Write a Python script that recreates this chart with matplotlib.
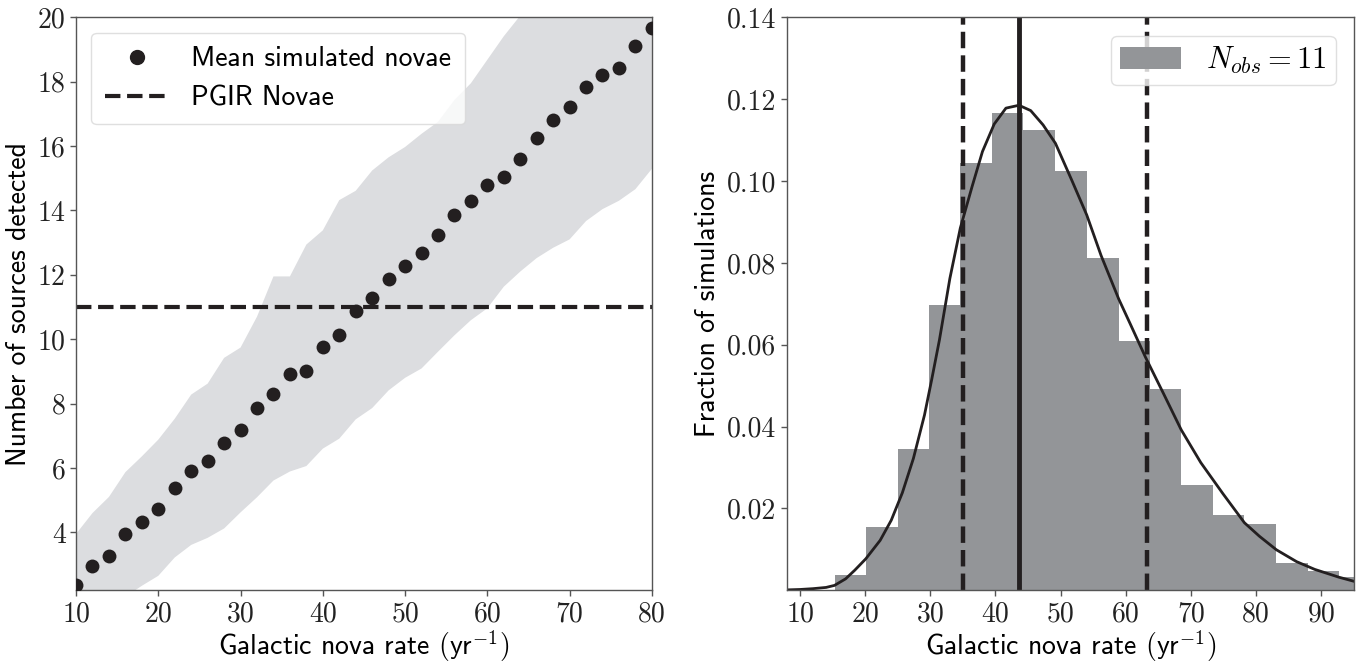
import matplotlib
matplotlib.use("Agg")
from matplotlib import pyplot as plt
from matplotlib.lines import Line2D

# left panel: mean detections vs galactic nova rate
rates = [10, 12, 14, 16, 18, 20, 22, 24, 26, 28, 30, 32, 34, 36, 38, 40, 42, 44,
         46, 48, 50, 52, 54, 56, 58, 60, 62, 64, 66, 68, 70, 72, 74, 76, 78, 80]
mean_detected = [2.38, 2.95, 3.28, 3.96, 4.32, 4.73, 5.38, 5.92, 6.22, 6.78, 7.17, 7.87,
                 8.31, 8.93, 9.01, 9.77, 10.14, 10.89, 11.29, 11.86, 12.26, 12.69, 13.23, 13.85,
                 14.30, 14.79, 15.05, 15.59, 16.26, 16.80, 17.21, 17.84, 18.21, 18.43, 19.10, 19.67]
band_upper = [3.95, 4.6, 5.1, 5.87, 6.36, 6.88, 7.53, 8.28, 8.62, 9.42, 9.74, 10.7,
              11.95, 11.95, 12.94, 13.38, 14.32, 14.61, 15.24, 15.65, 15.97, 16.38, 16.75, 17.43,
              17.95, 18.68, 19.41, 20.05, 20.6, 21.2, 21.7, 22.3, 22.8, 23.3, 23.8, 24.3]
band_lower = [0.9, 1.3, 1.6, 2.0, 2.34, 2.65, 3.22, 3.61, 3.83, 4.12, 4.62, 5.09,
              5.61, 5.89, 6.06, 6.6, 6.91, 7.51, 7.86, 8.41, 8.80, 9.09, 9.61, 10.12,
              10.59, 10.96, 11.63, 12.1, 12.52, 12.84, 13.1, 13.67, 14.04, 14.3, 14.66, 15.29]
n_observed = 11

# right panel: histogram of inferred rates
bin_edges = [15.3, 20.1, 25.0, 29.8, 34.6, 39.4, 44.2, 49.2, 54.0, 58.9,
             63.7, 68.5, 73.4, 78.2, 83.1, 87.9, 92.7, 97.6]
bin_fraction = [0.0038, 0.0154, 0.0345, 0.0697, 0.1044, 0.1165, 0.1125, 0.1024, 0.0812,
                0.0609, 0.0491, 0.0257, 0.0183, 0.0161, 0.0066, 0.0046, 0.0033]
fit_x = [8, 10, 12, 14, 15.3, 17, 18.4, 20.1, 22.3, 24.0, 25.7, 27.4, 29.1, 30.2, 31.4,
         33.0, 34.6, 36.4, 38.0, 39.8, 41.6, 43.6, 45.4, 47.3, 49.2, 51.7, 54.0, 56.2,
         58.9, 60.7, 63.0, 65.8, 68.5, 71.5, 74.9, 78.2, 80.5, 83.1, 86.2, 89.0, 92.7, 95]
fit_y = [0.0001, 0.0002, 0.0004, 0.0007, 0.0012, 0.0028, 0.0049, 0.0077, 0.0122, 0.0171,
         0.0238, 0.0322, 0.0428, 0.0514, 0.0612, 0.0762, 0.0885, 0.0986, 0.1072, 0.1139,
         0.1178, 0.1185, 0.1172, 0.1137, 0.1092, 0.1002, 0.0917, 0.0818, 0.0712, 0.0650,
         0.0570, 0.0480, 0.0392, 0.0312, 0.0236, 0.0165, 0.0132, 0.0099, 0.0070, 0.0051,
         0.0032, 0.0022]
rate_median = 43.6
rate_low = 35.0
rate_high = 63.2

rate_ticks_left = [10, 20, 30, 40, 50, 60, 70, 80]
count_ticks = [4, 6, 8, 10, 12, 14, 16, 18, 20]
rate_ticks_right = [10, 20, 30, 40, 50, 60, 70, 80, 90]
fraction_ticks = [0.02, 0.04, 0.06, 0.08, 0.10, 0.12, 0.14]

INK = "#231f20"
SANS = "cmss10"
SERIF = "cmr10"

plt.rcParams["mathtext.fontset"] = "cm"
plt.rcParams["axes.unicode_minus"] = False

fig = plt.figure(figsize=(13.58, 6.64), dpi=100)
ax_left = fig.add_axes([0.056, 0.111, 0.424, 0.863])
ax_right = fig.add_axes([0.5795, 0.111, 0.4175, 0.863])

ax_left.fill_between(rates, band_lower, band_upper, color="#dcdde0", linewidth=0)
ax_left.scatter(rates, mean_detected, s=100, color=INK, zorder=3, linewidths=0)
ax_left.axhline(n_observed, color=INK, linestyle="--", linewidth=3.0, zorder=2)
ax_left.set_xlim(10, 80)
ax_left.set_ylim(2.2, 20)
ax_left.set_xticks(rate_ticks_left)
ax_left.set_yticks(count_ticks)
ax_left.set_xlabel(r"Galactic nova rate $(\mathsf{yr}^{-1})$", fontsize=20, family=SANS, labelpad=1)
ax_left.set_ylabel("Number of sources detected", fontsize=20, family=SANS, labelpad=5)
handles = [
    Line2D([], [], linestyle="none", marker="o", markersize=10, color=INK),
    Line2D([], [], linestyle="--", linewidth=3.0, color=INK),
]
ax_left.legend(handles, ["Mean simulated novae", "PGIR Novae"], loc="upper left",
               prop={"family": SANS, "size": 20}, fancybox=True, framealpha=0.8,
               edgecolor="#d8d8d8", borderpad=0.5, handlelength=2.3, borderaxespad=0.55)

ax_right.bar(bin_edges[:-1], bin_fraction, width=[b - a for a, b in zip(bin_edges[:-1], bin_edges[1:])],
             align="edge", color="#939598", linewidth=0, label=r"$N_{obs} = 11$")
ax_right.plot(fit_x, fit_y, color=INK, linewidth=2.0)
ax_right.axvline(rate_median, color=INK, linewidth=3.5)
ax_right.axvline(rate_low, color=INK, linewidth=3.2, linestyle="--")
ax_right.axvline(rate_high, color=INK, linewidth=3.2, linestyle="--")
ax_right.set_xlim(8, 95)
ax_right.set_ylim(0, 0.14)
ax_right.set_xticks(rate_ticks_right)
ax_right.set_yticks(fraction_ticks)
ax_right.set_yticklabels([f"{v:.2f}" for v in fraction_ticks])
ax_right.set_xlabel(r"Galactic nova rate $(\mathsf{yr}^{-1})$", fontsize=20, family=SANS, labelpad=1)
ax_right.set_ylabel("Fraction of simulations", fontsize=20, family=SANS, labelpad=5)
ax_right.legend(loc="upper right", prop={"size": 22}, fancybox=True, framealpha=0.8,
                edgecolor="#d8d8d8", borderpad=0.3, handlelength=2.0, handleheight=0.7,
                borderaxespad=0.6)

for ax in (ax_left, ax_right):
    for spine in ax.spines.values():
        spine.set_color("#555555")
        spine.set_linewidth(1.0)
    ax.tick_params(direction="out", length=4, width=1, color="#555555", labelsize=20,
                   labelcolor="#222222")
    for label in ax.get_xticklabels() + ax.get_yticklabels():
        label.set_family(SERIF)

fig.savefig("out.png", dpi=100)
